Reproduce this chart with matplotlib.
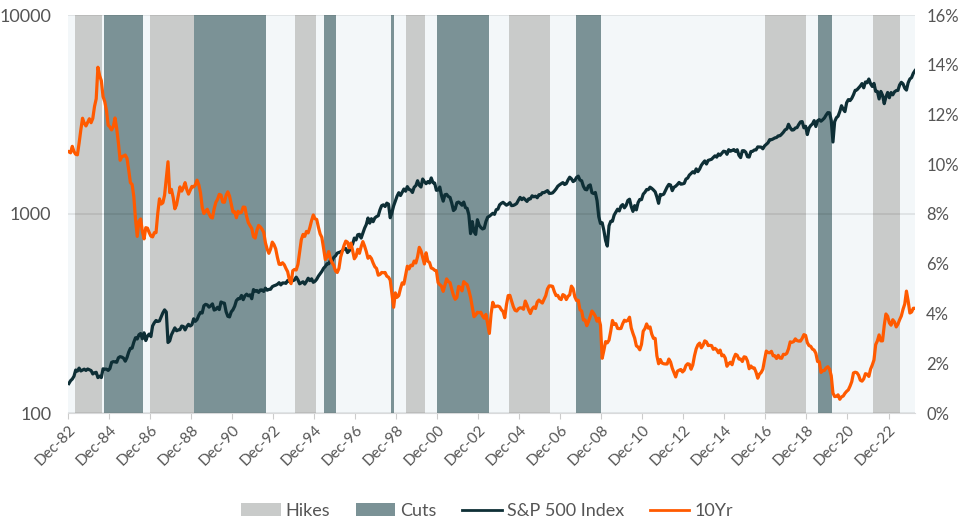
import numpy as np
import matplotlib
matplotlib.use("Agg")
import matplotlib.pyplot as plt
from matplotlib.patches import Patch
from matplotlib.lines import Line2D

# monthly values, Dec 1982 .. Mar 2024
start_year, start_month = 1982, 12

sp500 = [
    140.6,
    145.3, 148.1, 153.0, 164.4, 162.4, 168.1, 162.6, 164.4, 166.1, 163.6, 166.4, 164.9,
    163.4, 157.1, 159.2, 160.1, 150.6, 153.2, 150.7, 166.7, 166.1, 166.1, 163.6, 167.2,
    179.6, 181.2, 180.7, 179.8, 189.6, 191.9, 190.9, 188.6, 182.1, 189.8, 202.2, 211.3,
    211.8, 226.9, 238.9, 235.5, 247.4, 250.8, 236.1, 252.9, 231.3, 244.0, 249.2, 242.2,
    274.1, 284.2, 291.7, 288.4, 290.1, 304.0, 318.7, 329.8, 321.8, 226.0, 230.3, 247.1,
    257.1, 267.8, 258.9, 261.3, 262.2, 273.5, 272.0, 261.5, 271.9, 279.0, 273.7, 277.7,
    297.5, 288.9, 294.9, 309.6, 320.5, 318.0, 346.1, 351.5, 349.2, 340.4, 346.0, 353.4,
    329.1, 331.9, 339.9, 330.8, 361.2, 358.0, 356.2, 322.6, 306.1, 304.0, 322.2, 330.2,
    343.9, 367.1, 375.2, 375.3, 389.8, 371.2, 387.8, 395.4, 387.9, 392.5, 375.2, 417.1,
    408.8, 412.7, 403.7, 415.0, 415.4, 408.1, 424.2, 414.0, 417.8, 418.7, 431.4, 435.7,
    438.8, 443.4, 451.7, 440.2, 450.2, 450.5, 448.1, 463.6, 458.9, 467.8, 461.8, 466.5,
    481.6, 467.1, 445.8, 450.9, 456.5, 444.3, 458.3, 475.5, 462.7, 472.4, 453.7, 459.3,
    470.4, 487.4, 500.7, 514.7, 533.4, 544.8, 562.1, 561.9, 584.4, 581.5, 605.4, 615.9,
    636.0, 640.4, 645.5, 654.2, 669.1, 670.6, 640.0, 652.0, 687.3, 705.3, 757.0, 740.7,
    786.2, 790.8, 757.1, 801.3, 848.3, 885.1, 954.3, 899.5, 947.3, 914.6, 955.4, 970.4,
    980.3, 1049.3, 1101.8, 1111.8, 1090.8, 1133.8, 1120.7, 957.3, 1017.0, 1098.7, 1163.6, 1229.2,
    1279.6, 1238.3, 1286.4, 1335.2, 1301.8, 1372.7, 1328.7, 1320.4, 1282.7, 1362.9, 1389.0, 1469.3,
    1394.5, 1366.4, 1498.6, 1452.4, 1420.6, 1454.6, 1430.8, 1517.7, 1436.5, 1429.4, 1315.2, 1320.3,
    1366.0, 1239.9, 1160.3, 1249.5, 1255.8, 1224.4, 1211.2, 1133.6, 1040.9, 1059.8, 1139.5, 1148.1,
    1130.2, 1106.7, 1147.4, 1076.9, 1067.1, 989.8, 797.0, 916.1, 815.3, 790.0, 936.3, 879.8,
    855.7, 841.2, 848.2, 916.9, 963.6, 974.5, 990.3, 1008.0, 996.0, 1050.7, 1058.2, 1111.9,
    1131.1, 1144.9, 1126.2, 1107.3, 1120.7, 1140.8, 1101.7, 1104.2, 1114.6, 1130.2, 1173.8, 1211.9,
    1181.3, 1203.6, 1180.6, 1156.8, 1191.5, 1191.3, 1234.2, 1220.3, 1228.8, 1207.0, 1249.5, 1248.3,
    1280.1, 1280.7, 1294.8, 1310.6, 1270.1, 1270.2, 1276.7, 1303.8, 1335.9, 1377.9, 1400.6, 1418.3,
    1438.2, 1406.8, 1420.9, 1482.4, 1530.6, 1503.4, 1455.3, 1474.0, 1526.8, 1549.4, 1481.1, 1468.4,
    1378.6, 1330.6, 1322.7, 1385.6, 1400.4, 1280.0, 1267.4, 1282.8, 1166.4, 968.8, 896.2, 903.3,
    825.9, 735.1, 690.0, 872.8, 919.1, 919.3, 987.5, 1020.6, 1057.1, 1036.2, 1095.6, 1115.1,
    1073.9, 1104.5, 1169.4, 1186.7, 1089.4, 1030.7, 1101.6, 1049.3, 1141.2, 1183.3, 1180.6, 1257.6,
    1286.1, 1327.2, 1325.8, 1363.6, 1345.2, 1320.6, 1292.3, 1218.9, 1131.4, 1253.3, 1247.0, 1257.6,
    1312.4, 1365.7, 1408.5, 1397.9, 1310.3, 1362.2, 1379.3, 1406.6, 1440.7, 1412.2, 1416.2, 1426.2,
    1498.1, 1514.7, 1569.2, 1597.6, 1630.7, 1606.3, 1685.7, 1633.0, 1681.6, 1756.5, 1805.8, 1848.4,
    1782.6, 1859.5, 1872.3, 1884.0, 1923.6, 1960.2, 1930.7, 2003.4, 1972.3, 2018.1, 2067.6, 2058.9,
    1995.0, 2104.5, 2067.9, 2085.5, 2107.4, 2063.1, 2103.8, 1972.2, 1920.0, 2079.4, 2080.4, 2043.9,
    1940.2, 1932.2, 2059.7, 2065.3, 2097.0, 2098.9, 2173.6, 2171.0, 2168.3, 2126.2, 2199.0, 2238.8,
    2278.9, 2363.6, 2362.7, 2384.2, 2411.8, 2423.4, 2470.3, 2471.7, 2519.4, 2575.3, 2647.6, 2673.6,
    2823.8, 2713.8, 2640.9, 2648.1, 2705.3, 2718.4, 2816.3, 2901.5, 2914.0, 2711.7, 2760.2, 2506.9,
    2704.1, 2784.5, 2834.4, 2945.8, 2752.1, 2941.8, 2980.4, 2926.5, 2976.7, 3037.6, 3141.0, 3230.8,
    3225.5, 2954.2, 2300.0, 2912.4, 3044.3, 3100.3, 3271.1, 3500.3, 3363.0, 3270.0, 3621.6, 3756.1,
    3714.2, 3811.2, 3972.9, 4181.2, 4204.1, 4297.5, 4395.3, 4522.7, 4307.5, 4605.4, 4567.0, 4766.2,
    4515.6, 4373.9, 4530.4, 4131.9, 4132.2, 3785.4, 4130.3, 3955.0, 3585.6, 3872.0, 4080.1, 3839.5,
    4076.6, 3970.2, 4109.3, 4169.5, 4179.8, 4450.4, 4589.0, 4507.7, 4288.1, 4193.8, 4567.8, 4769.8,
    4845.7, 5096.3, 5254.0,
]

ten_yr = [
    10.5,
    10.46, 10.72, 10.51, 10.40, 10.38, 10.85, 11.38, 11.85, 11.65, 11.54, 11.69, 11.83,
    11.67, 11.84, 12.32, 12.63, 13.90, 13.56, 13.36, 12.72, 12.52, 12.16, 11.57, 11.50,
    11.38, 11.51, 11.86, 11.43, 10.85, 10.16, 10.31, 10.33, 10.37, 10.24, 9.78, 9.26,
    9.19, 8.70, 7.78, 7.10, 7.71, 7.80, 7.30, 7.00, 7.45, 7.43, 7.25, 7.11,
    7.08, 7.25, 7.25, 8.02, 8.61, 8.40, 8.45, 8.76, 9.42, 10.10, 8.86, 8.99,
    8.67, 8.21, 8.37, 8.72, 9.09, 8.92, 9.06, 9.26, 8.98, 8.80, 8.96, 9.11,
    9.09, 9.17, 9.36, 9.18, 8.86, 8.28, 8.02, 8.11, 8.19, 8.01, 7.87, 7.84,
    8.21, 8.47, 8.59, 8.79, 8.76, 8.48, 8.47, 8.75, 8.89, 8.72, 8.39, 8.08,
    8.09, 7.85, 8.11, 8.04, 8.07, 8.28, 8.27, 7.90, 7.65, 7.53, 7.42, 7.09,
    7.03, 7.34, 7.54, 7.48, 7.39, 7.26, 6.84, 6.59, 6.42, 6.59, 6.87, 6.77,
    6.60, 6.26, 5.98, 5.97, 6.04, 5.96, 5.81, 5.68, 5.36, 5.20, 5.72, 5.77,
    5.75, 5.97, 6.48, 6.97, 7.18, 7.10, 7.30, 7.24, 7.46, 7.74, 7.96, 7.81,
    7.78, 7.47, 7.20, 7.06, 6.63, 6.17, 6.28, 6.49, 6.20, 6.04, 5.93, 5.71,
    5.65, 5.81, 6.27, 6.51, 6.74, 6.91, 6.87, 6.64, 6.83, 6.53, 6.20, 6.30,
    6.58, 6.42, 6.69, 6.89, 6.71, 6.49, 6.22, 6.30, 6.21, 6.03, 5.88, 5.81,
    5.54, 5.57, 5.65, 5.64, 5.65, 5.50, 5.46, 5.34, 4.81, 4.25, 4.83, 4.65,
    4.72, 5.00, 5.23, 5.18, 5.54, 5.90, 5.79, 5.94, 5.92, 6.11, 6.03, 6.28,
    6.66, 6.52, 6.26, 5.99, 6.44, 6.10, 6.05, 5.83, 5.80, 5.74, 5.72, 5.24,
    5.16, 5.10, 4.89, 5.14, 5.39, 5.28, 5.24, 4.97, 4.73, 4.57, 4.65, 5.09,
    5.04, 4.91, 5.28, 5.21, 5.16, 4.93, 4.65, 4.26, 3.87, 3.94, 4.05, 4.03,
    4.05, 3.90, 3.81, 3.96, 3.57, 3.20, 3.98, 4.45, 4.27, 4.29, 4.30, 4.27,
    4.15, 4.08, 3.83, 4.35, 4.72, 4.73, 4.50, 4.28, 4.13, 4.10, 4.19, 4.23,
    4.22, 4.17, 4.50, 4.34, 4.14, 4.00, 4.18, 4.26, 4.20, 4.46, 4.54, 4.47,
    4.42, 4.57, 4.72, 4.99, 5.11, 5.11, 5.09, 4.88, 4.72, 4.73, 4.60, 4.56,
    4.76, 4.72, 4.56, 4.69, 4.75, 5.10, 5.00, 4.67, 4.52, 4.53, 4.15, 4.10,
    3.74, 3.74, 3.51, 3.68, 3.88, 4.10, 4.01, 3.89, 3.69, 3.81, 3.53, 2.20,
    2.52, 2.87, 2.82, 2.93, 3.29, 3.72, 3.56, 3.59, 3.40, 3.39, 3.40, 3.59,
    3.73, 3.69, 3.73, 3.85, 3.42, 3.20, 3.01, 2.70, 2.65, 2.54, 2.76, 3.29,
    3.39, 3.58, 3.41, 3.46, 3.17, 3.00, 3.00, 2.30, 1.98, 2.15, 2.01, 1.98,
    1.97, 1.97, 2.17, 2.05, 1.80, 1.62, 1.45, 1.68, 1.72, 1.75, 1.65, 1.72,
    1.91, 1.98, 1.96, 1.76, 1.93, 2.30, 2.58, 2.74, 2.81, 2.62, 2.72, 2.90,
    2.86, 2.71, 2.72, 2.71, 2.56, 2.60, 2.54, 2.42, 2.53, 2.30, 2.33, 2.21,
    1.88, 1.98, 2.04, 1.94, 2.20, 2.36, 2.32, 2.17, 2.17, 2.07, 2.26, 2.24,
    2.09, 1.78, 1.89, 1.81, 1.81, 1.64, 1.40, 1.56, 1.63, 1.76, 2.14, 2.49,
    2.43, 2.42, 2.48, 2.30, 2.30, 2.19, 2.32, 2.21, 2.20, 2.36, 2.35, 2.40,
    2.58, 2.86, 2.84, 2.87, 2.98, 2.91, 2.89, 2.89, 3.00, 3.15, 3.12, 2.83,
    2.71, 2.68, 2.57, 2.53, 2.40, 2.07, 2.06, 1.63, 1.70, 1.71, 1.81, 1.86,
    1.76, 1.50, 0.80, 0.66, 0.67, 0.73, 0.55, 0.65, 0.68, 0.79, 0.87, 0.93,
    1.08, 1.26, 1.61, 1.64, 1.62, 1.52, 1.32, 1.28, 1.37, 1.58, 1.56, 1.47,
    1.76, 1.93, 2.13, 2.75, 2.90, 3.14, 2.90, 2.90, 3.52, 3.98, 3.89, 3.62,
    3.53, 3.75, 3.66, 3.46, 3.57, 3.75, 3.90, 4.17, 4.38, 4.90, 4.50, 4.02,
    4.06, 4.21, 4.21,
]

hikes = [("1983-04", "1984-08"), ("1986-12", "1989-02"), ("1994-01", "1995-01"),
         ("1999-06", "2000-05"), ("2004-06", "2006-06"), ("2016-12", "2018-12"),
         ("2022-03", "2023-07")]
cuts = [("1984-09", "1986-08"), ("1989-02", "1992-08"), ("1995-06", "1996-01"),
        ("1998-09", "1998-11"), ("2000-12", "2003-06"), ("2007-09", "2008-12"),
        ("2019-07", "2020-03")]

tick_years = list(range(1982, 2023, 2))
tick_labels = ["Dec-%02d" % (y % 100) for y in tick_years]


def ym(s):
    y, m = s.split("-")
    return int(y) + (int(m) - 1) / 12


n = len(sp500)
x = start_year + (start_month - 0.5) / 12 + np.arange(n) / 12
ticks = [y + 11 / 12 for y in tick_years]

bg = "#f3f7f9"
hike_c = "#c9cbca"
cut_c = "#7b9296"
sp_c = "#0e2f36"
yr_c = "#ff5a00"
txt_c = "#555555"

plt.rcParams["font.family"] = ["Lato", "DejaVu Sans"]

fig = plt.figure(figsize=(9.62, 5.25), dpi=100)
ax = fig.add_axes([68 / 962, 1 - 413 / 525, (915 - 68) / 962, (413 - 15) / 525])
ax.set_facecolor(bg)

for a, b in hikes:
    ax.axvspan(ym(a), ym(b), color=hike_c, lw=0, zorder=1)
for a, b in cuts:
    ax.axvspan(ym(a), ym(b), color=cut_c, lw=0, zorder=1)

ax.plot(x, sp500, color=sp_c, lw=2.3, zorder=3)
ax.set_yscale("log")
ax.set_ylim(100, 10000)
ax.set_yticks([100, 1000, 10000])
ax.set_yticklabels(["100", "1000", "10000"])
ax.yaxis.set_minor_locator(matplotlib.ticker.NullLocator())
ax.grid(axis="y", which="major", color="#000000", alpha=0.09, lw=1.2, zorder=2)
ax.set_xlim(start_year + 11 / 12, x[-1])
ax.set_xticks(ticks)
ax.set_xticklabels(tick_labels, rotation=45, ha="right", rotation_mode="anchor")
ax.tick_params(axis="x", length=4, color="#cccccc", labelsize=11, labelcolor=txt_c, pad=3)
ax.tick_params(axis="y", length=0, labelsize=13, labelcolor=txt_c, pad=12)
for s in ["top", "left", "right"]:
    ax.spines[s].set_visible(False)
ax.spines["bottom"].set_color("#d9dadb")

ax2 = ax.twinx()
ax2.plot(x, ten_yr, color=yr_c, lw=2.3, zorder=4)
ax2.set_ylim(0, 16)
ax2.set_yticks(range(0, 17, 2))
ax2.set_yticklabels(["%d%%" % v for v in range(0, 17, 2)])
ax2.tick_params(axis="y", length=0, labelsize=12, labelcolor=txt_c, pad=8)
for s in ["top", "left", "right", "bottom"]:
    ax2.spines[s].set_visible(False)

handles = [Patch(color=hike_c, lw=0), Patch(color=cut_c, lw=0),
           Line2D([], [], color=sp_c, lw=2), Line2D([], [], color=yr_c, lw=2)]
fig.legend(handles, ["Hikes", "Cuts", "S&P 500 Index", "10Yr"], loc="center",
           bbox_to_anchor=(487 / 962, 1 - 511 / 525), ncol=4, frameon=False,
           fontsize=13, labelcolor=txt_c, handlelength=2.2, handletextpad=0.28,
           columnspacing=1.4)

fig.savefig("out.png", dpi=100)
